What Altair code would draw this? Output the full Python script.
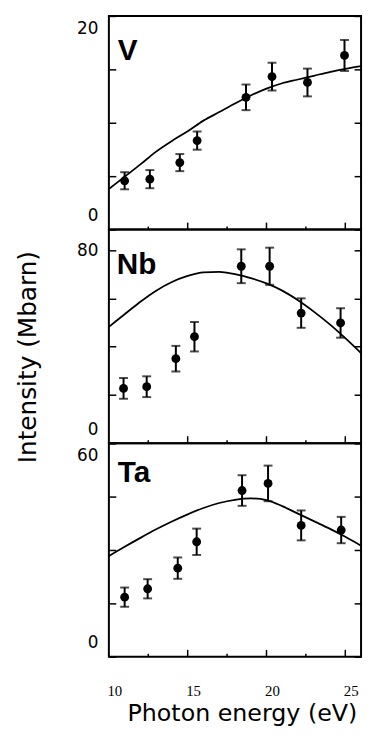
import altair as alt
import pandas as pd

# ---------------- data ----------------
curve_energy = list(range(10, 27))
major_x_ticks = [15, 20, 25]
minor_x_ticks = [12.5, 17.5, 22.5]
x_label_values = [10, 15, 20, 25]
x_title = ["Photon energy (eV)"]
y_title = ["Intensity (Mbarn)"]

# V
energy_V = [11.0, 12.6, 14.5, 15.6, 18.7, 20.35, 22.6, 24.95]
inten_V = [4.57, 4.72, 6.27, 8.33, 12.38, 14.32, 13.77, 16.3]
err_V = [0.8, 0.85, 0.8, 0.85, 1.2, 1.3, 1.3, 1.45]
curve_V = [3.8, 4.95, 6.1, 7.3, 8.3, 9.2, 10.2, 11.0, 11.8, 12.55, 13.2,
           13.7, 14.05, 14.4, 14.75, 15.05, 15.3]

# Nb
energy_Nb = [10.93, 12.4, 14.25, 15.43, 18.4, 20.2, 22.2, 24.7]
inten_Nb = [22.7, 23.4, 35.0, 44.1, 73.3, 73.3, 53.9, 49.8]
err_Nb = [4.3, 4.3, 5.3, 6.1, 7.0, 7.7, 6.1, 6.1]
curve_Nb = [48.2, 53.4, 58.6, 63.2, 66.8, 69.3, 70.8, 71.0, 70.0, 68.4, 66.2,
            63.2, 59.2, 54.5, 49.3, 43.5, 37.3]

# Ta
energy_Ta = [11.0, 12.46, 14.37, 15.57, 18.45, 20.1, 22.2, 24.74]
inten_Ta = [16.75, 19.1, 24.9, 32.3, 46.7, 48.7, 36.9, 35.6]
err_Ta = [2.7, 2.7, 3.0, 3.7, 4.3, 5.0, 4.2, 3.7]
curve_Ta = [28.3, 30.9, 33.4, 35.8, 38.0, 40.0, 41.8, 43.2, 44.1, 44.5, 44.0,
            42.3, 40.2, 38.1, 36.0, 33.7, 31.2]

W, H = 255, 216
SANS = "DejaVu Sans"


def panel(name, E, I, err, curve_I, ymax, yticks, ylabels, show_x, show_ytitle, lx, ly):
    df = pd.DataFrame({
        "E": E, "I": I,
        "lo": [a - b for a, b in zip(I, err)],
        "hi": [a + b for a, b in zip(I, err)],
    })
    cdf = pd.DataFrame({"E": curve_energy, "I": curve_I})
    majdf = pd.DataFrame({"E": major_x_ticks})
    mindf = pd.DataFrame({"E": minor_x_ticks})
    ndf = pd.DataFrame({"name": [name]})

    xs = alt.Scale(domain=[10, 26], nice=False, zero=False)
    ys = alt.Scale(domain=[0, ymax], nice=False, zero=True)

    test = " || ".join(f"datum.value == {v}" for v in ylabels)
    yaxis_left = alt.Axis(
        orient="left", values=yticks, labelExpr=f"({test}) ? datum.label : ''",
        tickSize=alt.ExprRef("-7"), domain=False, grid=False, title=None,
        labelFont=SANS, labelFontSize=17, labelPadding=18, labelColor="black",
        labelFlush=True, labelFlushOffset=-5, labelOverlap=False,
        tickColor="black", tickWidth=1.5,
    )
    yaxis_right = alt.Axis(orient="right", values=yticks, labels=False,
                           tickSize=alt.ExprRef("-7"), domain=False, grid=False,
                           tickColor="black", tickWidth=1.5, title=None)

    curve = alt.Chart(cdf).mark_line(color="black", strokeWidth=1.8, interpolate="monotone").encode(
        x=alt.X("E:Q", scale=xs, axis=None),
        y=alt.Y("I:Q", scale=ys, axis=yaxis_left),
    )
    bars = alt.Chart(df).mark_rule(color="black", strokeWidth=2).encode(
        x=alt.X("E:Q", scale=xs, axis=None),
        y=alt.Y("lo:Q", scale=ys, axis=yaxis_right),
        y2="hi:Q",
    )
    cap_lo = alt.Chart(df).mark_tick(color="black", orient="horizontal", size=9, thickness=2).encode(
        x=alt.X("E:Q", scale=xs, axis=None),
        y=alt.Y("lo:Q", scale=ys, axis=None),
    )
    cap_hi = alt.Chart(df).mark_tick(color="black", orient="horizontal", size=9, thickness=2).encode(
        x=alt.X("E:Q", scale=xs, axis=None),
        y=alt.Y("hi:Q", scale=ys, axis=None),
    )
    pts = alt.Chart(df).mark_point(filled=True, color="black", opacity=1, size=80).encode(
        x=alt.X("E:Q", scale=xs, axis=None),
        y=alt.Y("I:Q", scale=ys, axis=None),
    )
    major = alt.Chart(majdf).mark_rule(color="black", strokeWidth=1.5).encode(
        x=alt.X("E:Q", scale=xs, axis=None),
        y=alt.value(H), y2=alt.value(H - 7),
    )
    minor = alt.Chart(mindf).mark_rule(color="black", strokeWidth=1.5).encode(
        x=alt.X("E:Q", scale=xs, axis=None),
        y=alt.value(H), y2=alt.value(H - 3),
    )
    label = alt.Chart(ndf).mark_text(align="left", baseline="alphabetic", font="Liberation Sans",
                                     fontSize=30, fontWeight="bold", color="black").encode(
        text="name:N", x=alt.value(lx), y=alt.value(ly),
    )
    layers = [curve, bars, cap_lo, cap_hi, pts, major, minor, label]
    if show_ytitle:
        yt = alt.Chart(pd.DataFrame({"t": y_title})).mark_text(
            font=SANS, fontSize=25, color="black", align="center", baseline="middle",
            angle=270, clip=False,
        ).encode(x=alt.value(-82), y=alt.value(129), text="t:N")
        layers.append(yt)
    if show_x:
        xl = alt.Chart(pd.DataFrame({"E": x_label_values})).mark_text(
            font="Liberation Serif", fontSize=15, color="black", align="center",
            baseline="alphabetic", dx=6, clip=False,
        ).encode(
            x=alt.X("E:Q", scale=xs, axis=None), y=alt.value(H + 40), text=alt.Text("E:Q"),
        )
        xt = alt.Chart(pd.DataFrame({"t": x_title})).mark_text(
            font=SANS, fontSize=24, color="black", align="center",
            baseline="alphabetic", clip=False,
        ).encode(
            x=alt.value(135), y=alt.value(H + 65), text="t:N",
        )
        layers += [xl, xt]
    return alt.layer(*layers).properties(width=W, height=H)


pV = panel("V", energy_V, inten_V, err_V, curve_V, 20, [0, 5, 10, 15, 20], [0, 20],
           False, False, 9, 45)
pNb = panel("Nb", energy_Nb, inten_Nb, err_Nb, curve_Nb, 88.5, [0, 20, 40, 60, 80], [0, 80],
            False, True, 8, 45)
pTa = panel("Ta", energy_Ta, inten_Ta, err_Ta, curve_Ta, 60, [0, 15, 30, 45, 60], [0, 60],
            True, False, 9, 39)

chart = alt.vconcat(pV, pNb, pTa, spacing=0, bounds="flush").properties(
    padding={"left": 7, "top": 2, "right": 0, "bottom": 0},
    background="white",
).configure_view(stroke="black", strokeWidth=2)

chart.save("out.html", embed_options={"renderer": "svg", "actions": False})
